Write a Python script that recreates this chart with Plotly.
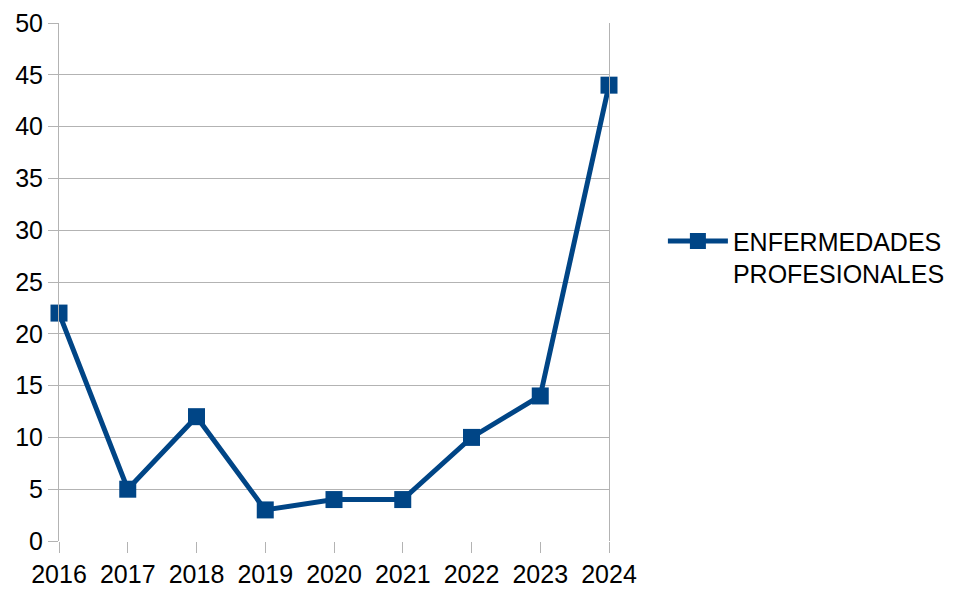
import plotly.graph_objects as go

years = [2016, 2017, 2018, 2019, 2020, 2021, 2022, 2023, 2024]
values = [22, 5, 12, 3, 4, 4, 10, 14, 44]
series_name = "ENFERMEDADES<br>PROFESIONALES"

color = "#004586"
grid = "#b3b3b3"
font = "Liberation Sans, Arial, sans-serif"

fig = go.Figure()
fig.add_trace(go.Scatter(
    x=years, y=values, mode="lines+markers", name=series_name,
    line=dict(color=color, width=5),
    marker=dict(symbol="square", size=17, color=color),
    cliponaxis=False,
))

fig.update_layout(
    width=949, height=582,
    margin=dict(l=51, r=348, t=15, b=49, autoexpand=False),
    paper_bgcolor="white", plot_bgcolor="white",
    font=dict(family=font, size=25, color="black"),
    showlegend=True,
    legend=dict(x=1.098, y=0.548, xanchor="left", yanchor="middle",
                valign="top", font=dict(size=25), itemwidth=60,
                tracegroupgap=0),
    xaxis=dict(range=[2016, 2024], tickmode="array", tickvals=years,
               ticks="outside", ticklen=11, tickcolor=grid, tickwidth=1,
               showgrid=False, zeroline=False, showline=False,
               automargin=False, tickfont=dict(size=25)),
    yaxis=dict(range=[0, 50], dtick=5, ticks="outside", ticklen=10,
               tickcolor=grid, tickwidth=1, gridcolor=grid, gridwidth=1,
               showline=True, linecolor=grid, linewidth=1, mirror=True,
               zeroline=False, automargin=False, tickfont=dict(size=25)),
)

fig.write_html("out.html")
